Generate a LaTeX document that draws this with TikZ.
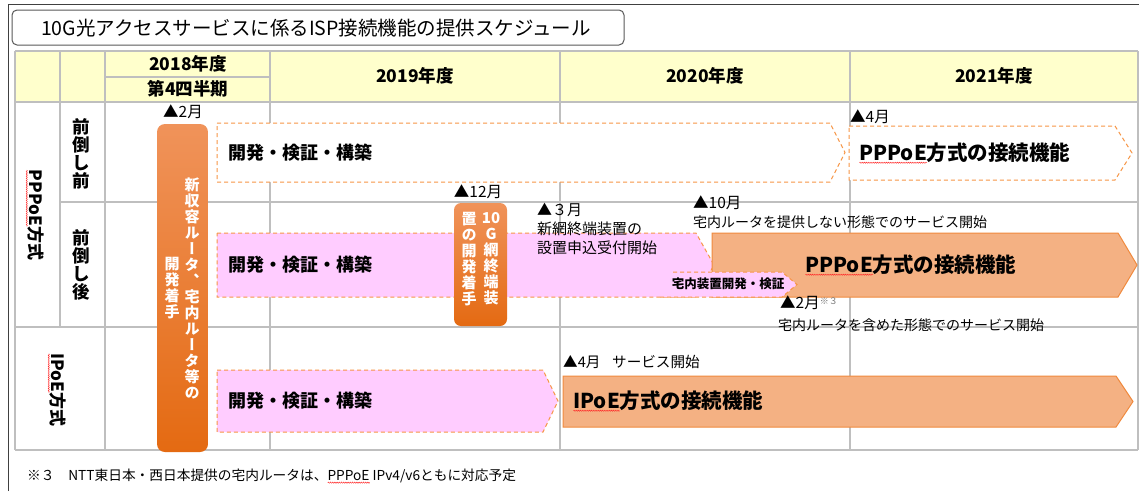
\documentclass[tikz,border=0pt]{standalone}
\usepackage{fontspec}
\setmainfont{Noto Sans CJK JP}
\newfontfamily\vfont[RawFeature=+vert]{Noto Sans CJK JP}
\usetikzlibrary{decorations.pathmorphing}
\newsavebox\wavebox
\newcommand\redwave[1]{\sbox\wavebox{#1}\rlap{\usebox\wavebox}\rlap{\raisebox{-2.6pt}{\tikz[baseline=0pt]\draw[red!85!white, line width=0.45pt, decorate, decoration={zigzag, segment length=2.2pt, amplitude=0.6pt}] (0pt,0pt) -- (\wd\wavebox,0pt);}}\hspace{\wd\wavebox}}
\definecolor{gridc}{HTML}{BFBFBF}
\definecolor{hdrc}{HTML}{FFFFCC}
\definecolor{dashor}{HTML}{F79646}
\definecolor{pinkf}{HTML}{FFCCFF}
\definecolor{orf}{HTML}{F4B183}
\definecolor{orb}{HTML}{F08A3E}
\definecolor{gtop}{HTML}{F0935A}
\definecolor{gbot}{HTML}{E46A12}
\tikzset{
  gridl/.style={draw=gridc, line width=1.2pt},
  hd/.style={font=\fontsize{17.5}{17.5}\selectfont\bfseries, inner sep=0},
  mbar/.style={font=\fontsize{18}{18}\selectfont\bfseries, inner sep=0, anchor=west},
  mbig/.style={font=\fontsize{20.5}{20.5}\selectfont\bfseries, inner sep=0, anchor=west},
  mnote/.style={font=\fontsize{14}{14}\selectfont, inner sep=0, anchor=west},
  mmark/.style={font=\fontsize{15.5}{15.5}\selectfont, inner sep=0, anchor=west},
  dasharrow/.style={draw=dashor, line width=1pt, dash pattern=on 4pt off 3pt},
  solidarrow/.style={draw=orb, line width=1pt, fill=orf},
  gradbox/.style={rounded corners=8pt, top color=gtop, bottom color=gbot, draw=none},
  vtext/.style={font=\vfont\fontsize{15}{16}\selectfont\bfseries, text=white, align=center, inner sep=0},
  rowlab/.style={font=\fontsize{17}{17}\selectfont\bfseries, align=center, inner sep=0},
}
\begin{document}
\begin{tikzpicture}[x=1pt,y=-1pt]
\useasboundingbox (0,0) rectangle (1139,491);
\fill[white] (0,0) rectangle (1139,491);
% outer frame
\draw[draw=black!75, line width=1pt] (8,491) -- (8,4) -- (1139,4);
% title
\draw[draw=black!65, line width=1pt, rounded corners=5pt] (12,10) rectangle (624,45);
\node[font=\fontsize{19.5}{19.5}\selectfont, inner sep=0] (title) at (316,28) {10G光アクセスサービスに係るISP接続機能の提供スケジュール};
% header fill
\fill[hdrc] (15,51) rectangle (1138,102);
% grid
\draw[gridl] (15,51) -- (1138,51);
\draw[gridl] (15,102) -- (1138,102);
\draw[gridl] (105,77) -- (270,77);
\draw[gridl] (60,202) -- (1138,202);
\draw[gridl] (15,327) -- (1138,327);
\draw[gridl] (15,450) -- (1138,450);
\draw[gridl] (15,51) -- (15,450);
\draw[gridl] (60,51) -- (60,327);
\draw[gridl] (105,51) -- (105,450);
\draw[gridl] (270,51) -- (270,450);
\draw[gridl] (560,51) -- (560,450);
\draw[gridl] (850,51) -- (850,450);
\draw[gridl] (1138,51) -- (1138,450);
% header text
\node[hd] (h2018) at (188,64) {2018年度};
\node[hd] (hq4) at (188,89) {第4四半期};
\node[hd] (h2019) at (415,76) {2019年度};
\node[hd] (h2020) at (705,76) {2020年度};
\node[hd] (h2021) at (994,76) {2021年度};
% row labels
\node[rowlab, rotate=-90] (lpppoe) at (35,215) {\redwave{PPPoE}方式};
\node[rowlab, rotate=-90] (lipoe) at (57,390) {\redwave{IPoE}方式};
\node[rowlab, font=\fontsize{17.5}{18}\selectfont\bfseries] (lpre) at (81,154) {前\\倒\\し\\前};
\node[rowlab, font=\fontsize{17.5}{18}\selectfont\bfseries] (lpost) at (81,265) {前\\倒\\し\\後};
% row 1
\draw[dasharrow, fill=white] (217,123) -- (830,123) -- (845,152.5) -- (830,182) -- (217,182) -- cycle;
\node[mbar] (r1a) at (228,153) {開発・検証・構築};
\draw[dasharrow, fill=white] (849,126) -- (1115,126) -- (1132,153) -- (1115,180) -- (849,180) -- cycle;
\node[mbig] (r1b) at (859,153) {\redwave{PPPoE}方式の接続機能};
\node[mmark] (m4a) at (850,117) {▲4月};
% row 2
\draw[dasharrow, fill=pinkf] (217,233) -- (696,233) -- (714,265) -- (696,297) -- (217,297) -- cycle;
\node[mbar] (r2a) at (228,265) {開発・検証・構築};
\draw[solidarrow] (712,233) -- (1118,233) -- (1137,265) -- (1118,297) -- (712,297) -- cycle;
\node[mbig] (r2b) at (805,265) {\redwave{PPPoE}方式の接続機能};
\fill[pinkf] (660,272) -- (782,272) -- (797,284.5) -- (782,297) -- (660,297) -- cycle;
\draw[dasharrow] (673,272) -- (782,272) -- (797,284.5) -- (782,297) -- (660,297);
\node[font=\fontsize{12.5}{12.5}\selectfont\bfseries, inner sep=0] (r2c) at (728,284) {宅内装置開発・検証};
% row 2 notes
\node[mnote, font=\fontsize{15}{15}\selectfont] (m3) at (537,210) {▲３月};
\node[mnote, font=\fontsize{15}{15}\selectfont] (m3a) at (537,229) {新網終端装置の};
\node[mnote, font=\fontsize{15}{15}\selectfont] (m3b) at (537,248) {設置申込受付開始};
\node[mmark] (m10) at (693,203) {▲10月};
\node[mnote] (m10a) at (693,222) {宅内ルータを提供しない形態でのサービス開始};
\node[mmark] (m2b) at (780,303) {▲2月\raisebox{4pt}{\fontsize{9}{9}\selectfont\color{black!55}※３}};
\node[mnote] (m2ba) at (778,325) {宅内ルータを含めた形態でのサービス開始};
% row 3
\draw[dasharrow, fill=pinkf] (217,370) -- (543,370) -- (558,401) -- (543,432) -- (217,432) -- cycle;
\node[mbar] (r3a) at (228,401) {開発・検証・構築};
\node[mnote, font=\fontsize{14.6}{14.6}\selectfont] (m4b) at (563,362) {▲4月\hspace{0.8em}サービス開始};
\draw[solidarrow] (563,376) -- (1116,376) -- (1133,401.5) -- (1116,427) -- (563,427) -- cycle;
\node[mbig] (r3b) at (573,401) {\redwave{IPoE}方式の接続機能};
% tall orange box
\node[mmark, anchor=center] (m2a) at (183,112) {▲2月};
\draw[gradbox] (157,124) rectangle (208,452);
\node[vtext] (v1) at (192,288) {新\\収\\容\\ル\\ー\\タ\\、\\宅\\内\\ル\\ー\\タ\\等\\の};
\node[vtext] (v2) at (172,288) {開\\発\\着\\手};
% small orange box
\node[mmark, anchor=center] (m12) at (478,192) {▲12月};
\draw[gradbox, rounded corners=7pt] (454,203) rectangle (507,326);
\node[vtext, anchor=north] (v3) at (491,212) {10\\G\\網\\終\\端\\装};
\node[vtext, anchor=north] (v4) at (469,212) {置\\の\\開\\発\\着\\手};
% footnote
\node[mnote, font=\fontsize{13.7}{13.7}\selectfont] (foot) at (27,476) {※３\hspace{1em}NTT東日本・西日本提供の宅内ルータは、\redwave{PPPoE} IPv4/v6ともに対応予定};
\end{tikzpicture}
\end{document}
